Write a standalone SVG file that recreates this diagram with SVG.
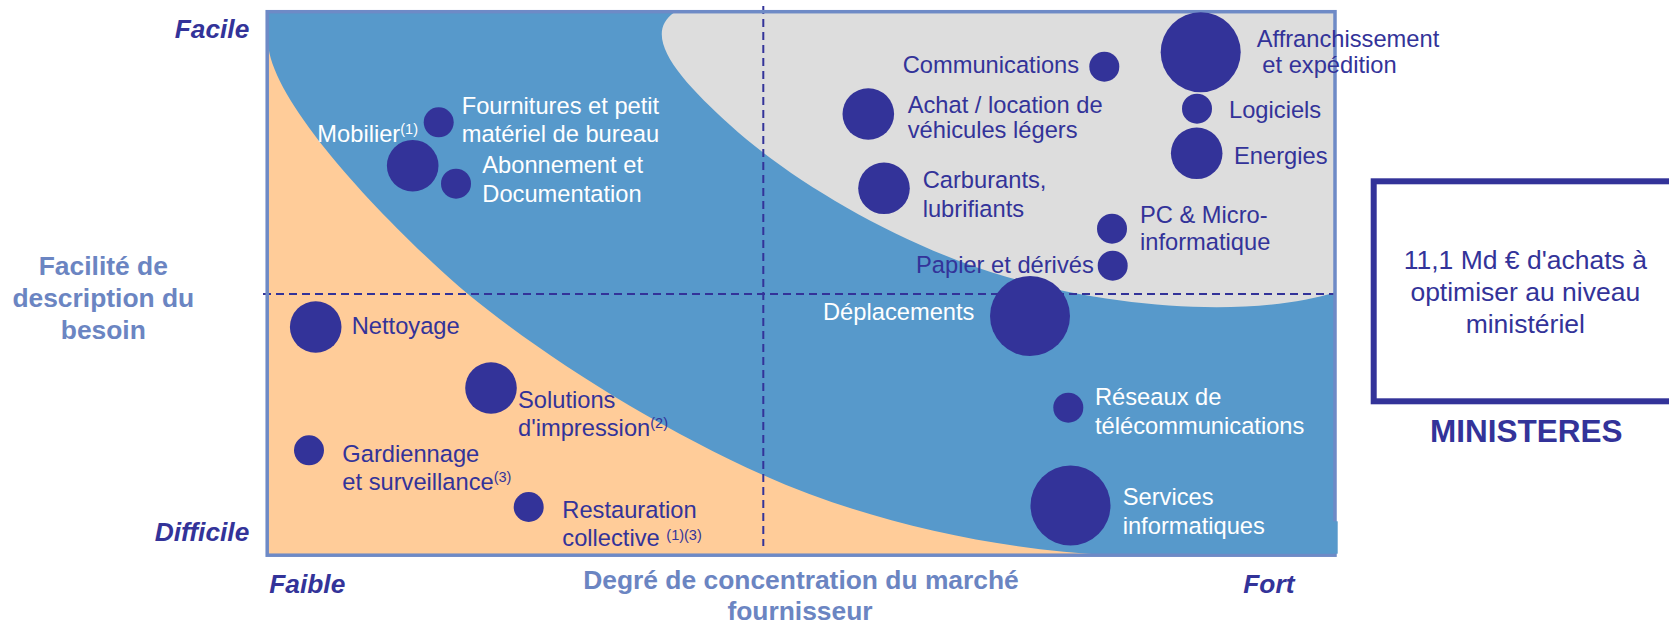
<svg xmlns="http://www.w3.org/2000/svg" width="1669" height="624" viewBox="0 0 1669 624">
<style>
text{font-family:"Liberation Sans",Arial,sans-serif}
.lbl{font-size:23.7px}
.w{fill:#ffffff}
.d{fill:#333399}
.b{fill:#333399}
.axis{font-size:26.3px;font-weight:bold;font-style:italic;fill:#333399}
.title{font-size:26.4px;font-weight:bold;fill:#6B85C2}
.sup{font-size:14.5px}
.dash{stroke:#333399;stroke-width:2;stroke-dasharray:8 5;fill:none}
</style>
<g id="chart-background">
<rect x="267" y="11.5" width="1068" height="543.5" fill="#5799CB"/>
<path d="M1336 292 C1260 316 1130 312 1007 277 C900 246 790 180 730 125 C680 80 640 35 675 12 L1336 12 Z" fill="#DDDDDD"/>
<path d="M268 43 C271 95 355 190 433 263 C505 332 640 420 763 475 C870 523 1000 550 1110 555 L268 555 Z" fill="#FFCC99"/>
</g>
<g id="quadrant-lines">
<line class="dash" x1="263" y1="294" x2="1335" y2="294"/>
<line class="dash" x1="763.3" y1="6" x2="763.3" y2="546"/>
</g>
<rect id="frame" x="267.2" y="11.7" width="1067.8" height="543.5" fill="none" stroke="#6E8AC6" stroke-width="3.5"/>
<rect x="1200" y="521.3" width="137.7" height="32.4" fill="#5799CB"/>
<g id="axis-labels">
<text class="axis" x="249.3" y="37.7" text-anchor="end">Facile</text>
<text class="axis" x="249.3" y="541.3" text-anchor="end">Difficile</text>
<text class="axis" x="269.3" y="593">Faible</text>
<text class="axis" x="1243.3" y="593">Fort</text>
<text class="title" x="103.3" y="275" text-anchor="middle">Facilité de</text>
<text class="title" x="103.3" y="306.7" text-anchor="middle">description du</text>
<text class="title" x="103.3" y="338.5" text-anchor="middle">besoin</text>
<text class="title" x="801" y="588.7" text-anchor="middle">Degré de concentration du marché</text>
<text class="title" x="800" y="620" text-anchor="middle">fournisseur</text>
</g>
<g id="node-mobilier">
<circle class="b" cx="412.7" cy="165.7" r="25.8"/>
<text class="lbl w" x="317.3" y="141.7">Mobilier<tspan class="sup" dy="-8">(1)</tspan></text>
</g>
<g id="node-fournitures">
<circle class="b" cx="438.7" cy="122.3" r="15"/>
<text class="lbl w" x="461.7" y="114">Fournitures et petit</text>
<text class="lbl w" x="461.7" y="141.7">matériel de bureau</text>
</g>
<g id="node-abonnement">
<circle class="b" cx="456" cy="183.7" r="15"/>
<text class="lbl w" x="482.3" y="173.3">Abonnement et</text>
<text class="lbl w" x="482.3" y="201.7">Documentation</text>
</g>
<g id="node-communications">
<circle class="b" cx="1104.3" cy="66.7" r="15"/>
<text class="lbl d" x="902.7" y="72.7">Communications</text>
</g>
<g id="node-achat">
<circle class="b" cx="868.3" cy="114" r="25.8"/>
<text class="lbl d" x="907.7" y="113.3">Achat / location de</text>
<text class="lbl d" x="907.7" y="137.7">véhicules légers</text>
</g>
<g id="node-carburants">
<circle class="b" cx="884" cy="188.3" r="25.8"/>
<text class="lbl d" x="922.7" y="188.3">Carburants,</text>
<text class="lbl d" x="922.7" y="216.7">lubrifiants</text>
</g>
<g id="node-affranchissement">
<circle class="b" cx="1200.7" cy="52.3" r="40"/>
<text class="lbl d" x="1256.7" y="46.7">Affranchissement</text>
<text class="lbl d" x="1262.3" y="72.7">et expédition</text>
</g>
<g id="node-logiciels">
<circle class="b" cx="1197" cy="108.7" r="15"/>
<text class="lbl d" x="1229" y="118.3">Logiciels</text>
</g>
<g id="node-energies">
<circle class="b" cx="1196.7" cy="153.3" r="25.8"/>
<text class="lbl d" x="1234" y="164.3">Energies</text>
</g>
<g id="node-pc">
<circle class="b" cx="1112" cy="228.7" r="15"/>
<text class="lbl d" x="1140" y="222.7">PC &amp; Micro-</text>
<text class="lbl d" x="1140" y="250">informatique</text>
</g>
<g id="node-papier">
<circle class="b" cx="1112.7" cy="265.7" r="15"/>
<text class="lbl d" x="916" y="272.7">Papier et dérivés</text>
</g>
<g id="node-deplacements">
<circle class="b" cx="1030" cy="316" r="40"/>
<text class="lbl w" x="823" y="320">Déplacements</text>
</g>
<g id="node-reseaux">
<circle class="b" cx="1068.3" cy="407.7" r="15"/>
<text class="lbl w" x="1095" y="405.3">Réseaux de</text>
<text class="lbl w" x="1095" y="433.7">télécommunications</text>
</g>
<g id="node-services">
<circle class="b" cx="1070.5" cy="505.5" r="40"/>
<text class="lbl w" x="1122.7" y="505.3">Services</text>
<text class="lbl w" x="1122.7" y="533.7">informatiques</text>
</g>
<g id="node-nettoyage">
<circle class="b" cx="315.7" cy="327" r="25.8"/>
<text class="lbl d" x="351.7" y="333.7">Nettoyage</text>
</g>
<g id="node-solutions">
<circle class="b" cx="491" cy="388" r="25.8"/>
<text class="lbl d" x="518" y="408">Solutions</text>
<text class="lbl d" x="518" y="436">d'impression<tspan class="sup" dy="-8">(2)</tspan></text>
</g>
<g id="node-gardiennage">
<circle class="b" cx="309" cy="450.3" r="15"/>
<text class="lbl d" x="342.3" y="462">Gardiennage</text>
<text class="lbl d" x="342.3" y="490.3">et surveillance<tspan class="sup" dy="-8">(3)</tspan></text>
</g>
<g id="node-restauration">
<circle class="b" cx="528.7" cy="507" r="15"/>
<text class="lbl d" x="562.3" y="518">Restauration</text>
<text class="lbl d" x="562.3" y="546.3">collective <tspan class="sup" dy="-6">(1)(3)</tspan></text>
</g>
<g id="node-ministeres">
<rect x="1373.7" y="181.3" width="400" height="220" fill="#ffffff" stroke="#333399" stroke-width="6"/>
<text x="1525.3" y="269" text-anchor="middle" style="font-size:26.5px;fill:#333399">11,1 Md € d'achats à</text>
<text x="1525.3" y="300.5" text-anchor="middle" style="font-size:26.5px;fill:#333399">optimiser au niveau</text>
<text x="1525.3" y="332.7" text-anchor="middle" style="font-size:26.5px;fill:#333399">ministériel</text>
<text x="1526.3" y="441.7" text-anchor="middle" style="font-size:31.5px;font-weight:bold;fill:#333399">MINISTERES</text>
</g>
</svg>
